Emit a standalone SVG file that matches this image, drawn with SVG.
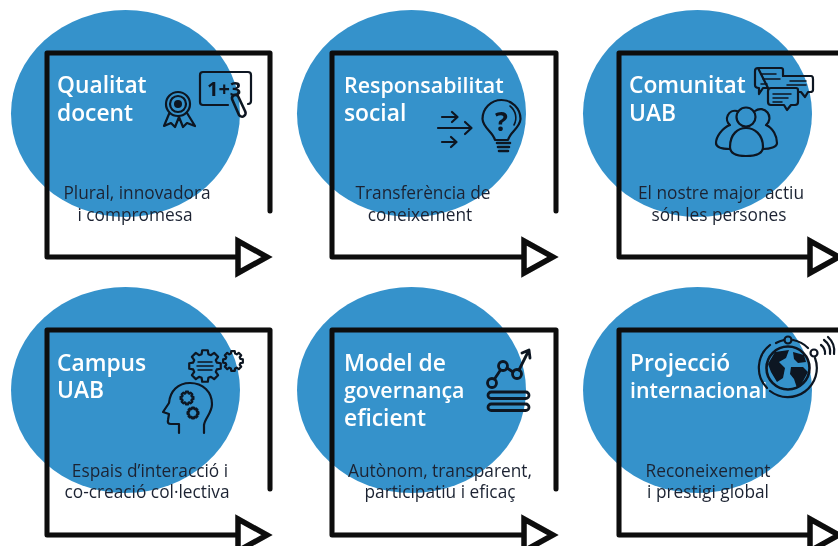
<svg xmlns="http://www.w3.org/2000/svg" width="838" height="550" viewBox="0 0 838 550">
<style>
.disc{fill:#3692cb}
.title{font-family:"Open Sans","Noto Sans",sans-serif;font-weight:600;font-size:22.8px;fill:#fff}
.tight{font-size:21.4px}
.sub{font-family:"Open Sans","Noto Sans",sans-serif;font-size:17.3px;fill:#1c2433;text-anchor:middle}
.frame{fill:none;stroke:#0a0a0a;stroke-width:5;stroke-linejoin:round;stroke-linecap:round}
.ic{fill:none;stroke:#0d1520;stroke-width:2.2;stroke-linecap:round;stroke-linejoin:round}
.icf{fill:#0d1520;stroke:none}
.ict{font-family:"Open Sans","Noto Sans",sans-serif;font-weight:700;fill:#0d1520}
</style>
<defs>
<filter id="soft" x="-2%" y="-2%" width="104%" height="104%"><feGaussianBlur stdDeviation="0.5"/></filter>
<marker id="tri" markerUnits="userSpaceOnUse" markerWidth="44" markerHeight="44" refX="2" refY="22" orient="auto" overflow="visible">
<path d="M2,6 L31,22 L2,38 Z" fill="#fff" stroke="#0a0a0a" stroke-width="5.5" stroke-linejoin="miter"/>
</marker>
<path id="gear" vector-effect="non-scaling-stroke" d="M7.4,-2.12 L9.85,-1.74 L9.85,1.74 L7.4,2.12 L6.73,3.73 L8.19,5.73 L5.73,8.19 L3.73,6.73 L2.12,7.4 L1.74,9.85 L-1.74,9.85 L-2.12,7.4 L-3.73,6.73 L-5.73,8.19 L-8.19,5.73 L-6.73,3.73 L-7.4,2.12 L-9.85,1.74 L-9.85,-1.74 L-7.4,-2.12 L-6.73,-3.73 L-8.19,-5.73 L-5.73,-8.19 L-3.73,-6.73 L-2.12,-7.4 L-1.74,-9.85 L1.74,-9.85 L2.12,-7.4 L3.73,-6.73 L5.73,-8.19 L8.19,-5.73 L6.73,-3.73 Z"/>
</defs>
<rect width="838" height="550" fill="#fff"/>
<g filter="url(#soft)">
<g id="node-qualitat">
<ellipse class="disc" cx="125.5" cy="113.5" rx="114.5" ry="103.5"/>
<text class="title" x="57" y="93">Qualitat</text>
<text class="title" x="57" y="121">docent</text>
<text class="sub" x="137" y="199">Plural, innovadora</text>
<text class="sub" x="135" y="221">i compromesa</text>
<g class="ic">
<circle cx="178" cy="104" r="12"/><circle cx="178" cy="104" r="8"/><circle class="icf" cx="178" cy="104" r="4"/>
<path d="M169,114 L164,126 L171,123 L175,127 L179,117 L183,127 L187,123 L195,126 L187,113"/>
<path d="M228,105 H203 Q200,105 200,102 V75 Q200,72 203,72 H248 Q251,72 251,75 V101 Q251,104 248,104"/>
<path d="M232,99 a3.5,3.5 0 0 1 6,-3 L245,111 a3.5,3.5 0 0 1 -6,4 Z" stroke-width="2.6"/>
</g>
<text class="ict" x="207" y="96" font-size="20">1+3</text>
</g>
<g id="node-responsabilitat">
<ellipse class="disc" cx="411.5" cy="113.5" rx="114.5" ry="103.5"/>
<text class="title tight" x="344" y="93">Responsabilitat</text>
<text class="title" x="344" y="121">social</text>
<text class="sub" x="423" y="199">Transferència de</text>
<text class="sub" x="420" y="221">coneixement</text>
<g class="ic">
<path d="M442,117 H457 M452,112 L457.5,117 L452,122"/>
<path d="M438,128 H471 M465,122 L471.5,128 L465,134"/>
<path d="M442,142 H456 M451,137 L456.5,142 L451,147"/>
<path d="M495,140 C493,132 483,128 482.5,119 A19,19 0 0 1 520.5,119 C520,128 510,132 508,140 Z"/>
<path d="M510,106 A15,15 0 0 1 514,125" stroke-width="1.6"/>
<path d="M497,143 H510 M498,147 H509 M499,151 H508" stroke-width="2.6"/>
</g>
<text class="ict" x="501.5" y="131" font-size="27" text-anchor="middle">?</text>
</g>
<g id="node-comunitat">
<ellipse class="disc" cx="697.5" cy="113.5" rx="114.5" ry="103.5"/>
<text class="title" x="629" y="93">Comunitat</text>
<text class="title" x="629" y="121">UAB</text>
<text class="sub" x="721" y="199">El nostre major actiu</text>
<text class="sub" x="719" y="221">són les persones</text>
<g class="ic">
<path d="M758,68 H781 Q783,68 783,70 V76 M768,88 H763 L759,94 V88 Q755,88 755,85 V71 Q755,68 758,68 Z"/>
<path d="M785,76 H811 Q813,76 813,79 V90 Q813,92 810,92 H808 L805,97 L801,92 H798 M783,76 H785"/>
<path d="M771,88 H796 Q798,88 798,90 V102 Q798,105 795,105 H791 L787,110 L784,105 H771 Q768,105 768,102 V91 Q768,88 771,88 Z"/>
<path d="M761,74 H776 M763,79 H780 M761,84 H767 M790,81 H806 M787,85 H806 M773,94 H791 M773,98 H788 M773,102 H782" stroke-width="1.5"/>
<circle cx="746" cy="117" r="9.5"/>
<path d="M730,147 C730,134 738,128 746,128 C754,128 763,134 763,147 C763,154 755,156 746,156 C737,156 730,154 730,147 Z"/>
<path d="M737,111 A8,8 0 0 0 730,125 C722,128 716,137 716,143 C716,147 722,149 730,149"/>
<path d="M755,111 A8,8 0 0 1 766,125 C773,128 777,136 777,143 C777,147 770,149 763,149"/>
</g>
</g>
<g id="node-campus">
<ellipse class="disc" cx="125.5" cy="390" rx="114.5" ry="103"/>
<text class="title" x="57" y="371">Campus</text>
<text class="title" x="57" y="398">UAB</text>
<text class="sub" x="150" y="477">Espais d’interacció i</text>
<text class="sub" x="147" y="498">co-creació col·lectiva</text>
<g class="ic">
<use href="#gear" transform="translate(205 366) scale(1.6)"/>
<path d="M198,362 H212 M197,366 H213 M198,370 H212" stroke-width="1.5"/>
<use href="#gear" transform="translate(233 361) scale(1)"/>
<path d="M179,433 V424 H171 Q167,424 168,420 L169,414 L163,412 L169,403 C170,391 178,383 190,383 C203,383 212,392 212,404 C212,413 205,418 204,425 V433"/>
<use href="#gear" transform="translate(187 398) scale(0.65)"/>
<use href="#gear" transform="translate(193 413) scale(0.55)"/>
</g>
</g>
<g id="node-model">
<ellipse class="disc" cx="411.5" cy="390" rx="114.5" ry="103"/>
<text class="title" x="344" y="371">Model de</text>
<text class="title tight" x="344" y="398">governança</text>
<text class="title" x="344" y="426">eficient</text>
<text class="sub" x="440" y="477">Autònom, transparent,</text>
<text class="sub" x="440" y="498">participatiu i eficaç</text>
<g class="ic" style="stroke-width:2.8">
<circle cx="492" cy="383" r="4.5"/><circle cx="503" cy="366" r="4.5"/><circle cx="517" cy="374" r="4.5"/>
<path d="M494.5,379 L500.5,370 M507,368 L513,372 M519,370 L528,352 M522,353 L529,350 L530,358"/>
<rect x="488" y="392" width="41" height="6.5" rx="3.25"/>
<rect x="488" y="404" width="41" height="6.5" rx="3.25"/>
</g>
</g>
<g id="node-projeccio">
<ellipse class="disc" cx="697.5" cy="390" rx="114.5" ry="103"/>
<text class="title" x="630" y="371">Projecció</text>
<text class="title tight" x="630" y="398">internacional</text>
<text class="sub" x="708" y="477">Reconeixement</text>
<text class="sub" x="708" y="498">i prestigi global</text>
<g class="ic">
<circle cx="788" cy="368" r="21.5" style="stroke-width:2.6"/>
<path d="M770,345 A29,29 0 0 0 767,388 M815,358 A29,29 0 0 1 770,391 M793,340 A28.4,28.4 0 0 1 808,348 M776,343 A28,28 0 0 1 784,340"/>
<circle cx="788" cy="340" r="3.5"/><circle cx="814" cy="353" r="3.5"/>
<path d="M821,345 A10,10 0 0 1 825,354 M824,340 A15,15 0 0 1 830,354 M828,337 A19,19 0 0 1 834,354"/>
</g>
<path class="icf" d="M775,352 L789,350 L786,358 L779,362 L785,368 L783,378 L777,382 L771,372 L768,364 Z M793,352 L804,355 L806,362 L798,363 L794,359 Z M791,367 L803,367 L808,372 L802,383 L797,388 L794,379 L790,374 Z"/>
</g>
<g id="connectors">
<path class="frame" marker-end="url(#tri)" d="M270,211 V53 H47 V257 H238"/>
<path class="frame" marker-end="url(#tri)" d="M556,211 V53 H332 V257 H524"/>
<path class="frame" marker-end="url(#tri)" d="M841,211 V53 H619 V257 H810"/>
<path class="frame" marker-end="url(#tri)" d="M270,489 V330 H47 V535 H238"/>
<path class="frame" marker-end="url(#tri)" d="M556,489 V330 H332 V535 H524"/>
<path class="frame" marker-end="url(#tri)" d="M841,489 V330 H619 V535 H810"/>
</g>
</g>
</svg>
